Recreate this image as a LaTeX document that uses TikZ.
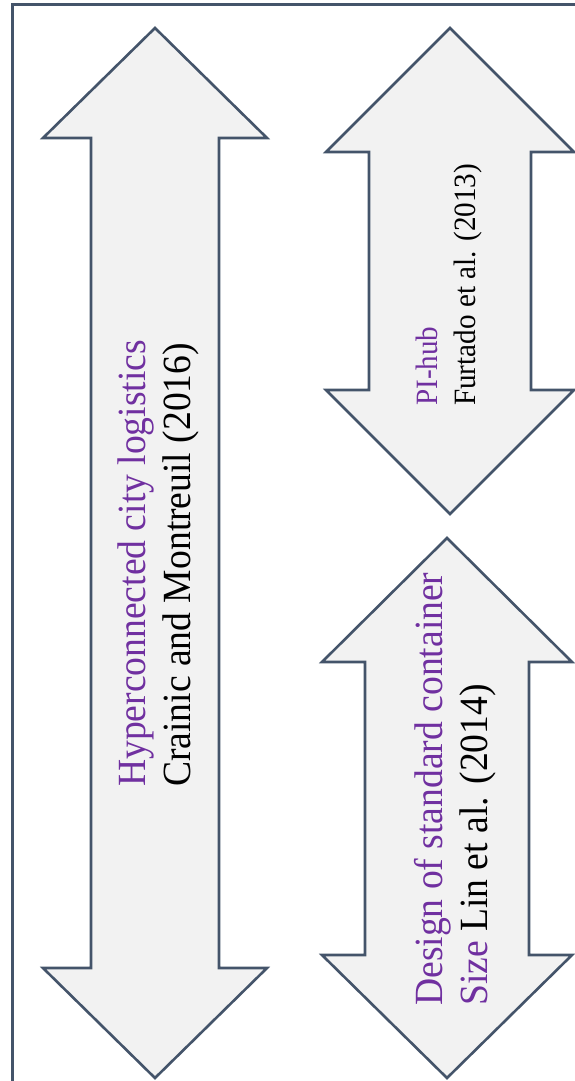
\documentclass[tikz,border=0pt]{standalone}
\usepackage{fontspec}
\setmainfont{Liberation Serif}[FakeStretch=0.94]
\definecolor{slate}{HTML}{44546A}
\definecolor{arrowfill}{HTML}{F2F2F2}
\definecolor{titlepurple}{HTML}{7030A0}
\tikzstyle{frame} = [draw=slate, line width=3pt]
\tikzstyle{dblarrow} = [draw=slate, line width=2.6pt, fill=arrowfill, line join=miter]
\tikzstyle{arrowtext} = [rotate=90, anchor=west, inner sep=0pt, align=left]
\tikzstyle{bigtext} = [arrowtext, font=\fontsize{40}{45}\selectfont]
\tikzstyle{smalltext} = [arrowtext, font=\fontsize{31}{38}\selectfont]

\begin{document}
\begin{tikzpicture}[x=1pt, y=-1pt]

	\useasboundingbox (0,0) rectangle (575,1081);

	% Frame
	\coordinate (frame_bottom) at (12,1083);
	\coordinate (frame_corner) at (12,5);
	\coordinate (frame_right) at (577,5);
	\draw[frame] (frame_bottom) -- (frame_corner) -- (frame_right);

	% Double arrows
	\draw[dblarrow] (155,28) -- (267,138) -- (219,138) -- (219,968) -- (267,968) -- (155,1078)
		-- (43,968) -- (91,968) -- (91,138) -- (43,138) -- cycle;
	\draw[dblarrow] (450,28) -- (574,152) -- (531,152) -- (531,390) -- (574,390) -- (450,514)
		-- (326,390) -- (369,390) -- (369,152) -- (326,152) -- cycle;
	\draw[dblarrow] (447,538) -- (572,662) -- (529,662) -- (529,955) -- (572,955) -- (447,1078)
		-- (322,955) -- (365,955) -- (365,662) -- (322,662) -- cycle;

	% Texts
	\node (city) [bigtext] at (158,787) {\textcolor{titlepurple}{Hyperconnected city logistics}\\Crainic and Montreuil (2016)};
	\node (hub) [smalltext] at (449,406) {\textcolor{titlepurple}{PI-hub}\\Furtado et al. (2013)};
	\node (container) [bigtext] at (455,1006) {\textcolor{titlepurple}{Design of standard container}\\\textcolor{titlepurple}{Size} Lin et al. (2014)};

\end{tikzpicture}
\end{document}
